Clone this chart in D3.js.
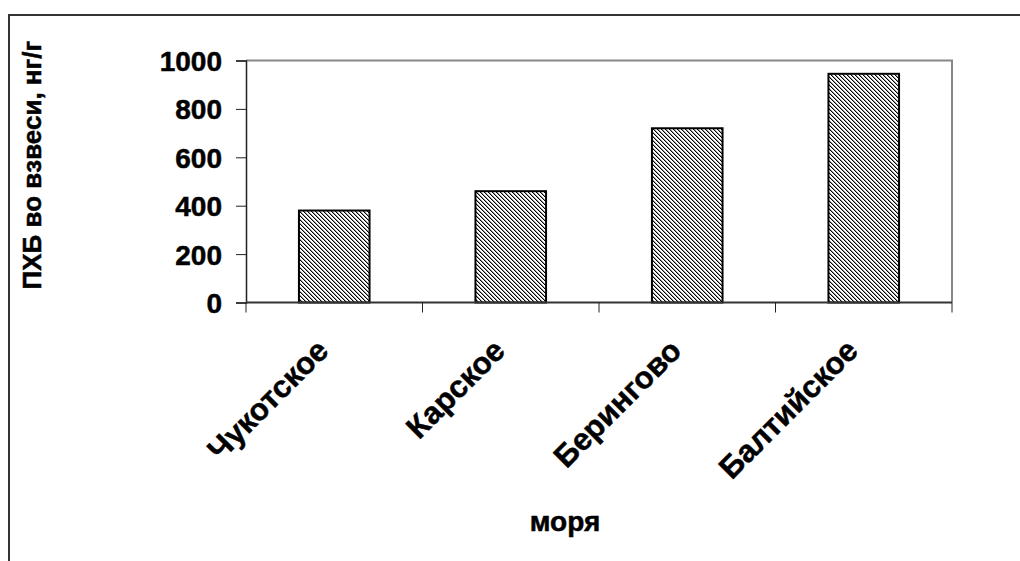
<!DOCTYPE html>
<html>
<head>
<meta charset="utf-8">
<script src="https://cdn.jsdelivr.net/npm/d3@7"></script>
<style>
  html, body { margin: 0; padding: 0; background: #fff; }
  svg { display: block; }
  text { font-family: "Liberation Sans", Arial, sans-serif; font-weight: bold; fill: #000; stroke: #000; stroke-width: 0.5px; }
</style>
</head>
<body>
<svg id="chart" width="1020" height="561"></svg>
<script>
// PCB concentration in suspended matter by sea
const seas = ["Чукотское", "Карское", "Берингово", "Балтийское"];
const pcbValues = [380, 460, 720, 945];
const yTicks = [0, 200, 400, 600, 800, 1000];
const yTitle = "ПХБ во взвеси, нг/г";
const xTitle = "моря";

const svg = d3.select("#chart");
const W = 1020, H = 561;
const plot = { left: 246, right: 952, top: 60.5, bottom: 302.5 };

// hatched fill for the bars (dark downward diagonal)
const defs = svg.append("defs");
const pat = defs.append("pattern")
  .attr("id", "hatch")
  .attr("patternUnits", "userSpaceOnUse")
  .attr("width", 4).attr("height", 4);
pat.append("rect").attr("width", 4).attr("height", 4).attr("fill", "#fff");
[[0,0],[1,1],[2,2],[3,3]].forEach(([x, y]) =>
  pat.append("rect").attr("x", x).attr("y", y).attr("width", 1).attr("height", 1).attr("fill", "#000"));
[[1,0],[2,1],[3,2],[0,3]].forEach(([x, y]) =>
  pat.append("rect").attr("x", x).attr("y", y).attr("width", 1).attr("height", 1).attr("fill", "#999"));

// outer chart frame (clipped by the canvas on right and bottom)
svg.append("path")
  .attr("d", `M9,${H} V15 H${W}`)
  .attr("fill", "none").attr("stroke", "#333").attr("stroke-width", 2);

const x = d3.scaleBand().domain(seas).range([plot.left, plot.right]).paddingInner(0.6).paddingOuter(0.3);
const xCat = d3.scaleBand().domain(seas).range([plot.left, plot.right]);
const y = d3.scaleLinear().domain([0, 1000]).range([plot.bottom, plot.top]);

// plot area border (top and right, grey)
svg.append("path")
  .attr("d", `M${plot.left},${plot.top} H${plot.right} V${plot.bottom}`)
  .attr("fill", "none").attr("stroke", "#888").attr("stroke-width", 2);

// bars
svg.append("g").selectAll("rect")
  .data(pcbValues)
  .join("rect")
  .attr("x", (d, i) => x(seas[i]))
  .attr("y", d => y(d))
  .attr("width", x.bandwidth())
  .attr("height", d => y(0) - y(d))
  .attr("fill", "url(#hatch)")
  .attr("stroke", "#000")
  .attr("stroke-width", 2);

// y axis
const yAxis = d3.axisLeft(y).tickValues(yTicks).tickFormat(d3.format("d")).tickSize(10).tickPadding(14);
const gy = svg.append("g").attr("transform", `translate(${plot.left},0)`).call(yAxis);
gy.select(".domain").attr("stroke", "#222").attr("stroke-width", 1.5);
gy.selectAll(".tick line").attr("stroke", "#222").attr("stroke-width", 1);
gy.selectAll(".tick text").style("font-size", "28px").attr("dy", "0.36em");

// x axis with ticks on category boundaries
const gx = svg.append("g").attr("transform", `translate(0,${plot.bottom})`);
gx.append("line")
  .attr("x1", plot.left).attr("x2", plot.right)
  .attr("stroke", "#333").attr("stroke-width", 2);
const bounds = seas.map(s => xCat(s)).concat([plot.right]);
gx.selectAll("line.tk")
  .data(bounds)
  .join("line")
  .attr("class", "tk")
  .attr("x1", d => d).attr("x2", d => d)
  .attr("y1", 0).attr("y2", 10)
  .attr("stroke", "#222").attr("stroke-width", 1);

// rotated category labels
svg.append("g").selectAll("text")
  .data(seas)
  .join("text")
  .attr("transform", d => `translate(${xCat(d) + xCat.bandwidth() / 2 - 4},${plot.bottom + 50}) rotate(-45)`)
  .attr("text-anchor", "end")
  .style("font-size", "31px")
  .text(d => d);

// axis titles
svg.append("text")
  .attr("transform", `translate(41,165) rotate(-90)`)
  .attr("text-anchor", "middle")
  .style("font-size", "26px")
  .text(yTitle);

svg.append("text")
  .attr("x", 565).attr("y", 531)
  .attr("text-anchor", "middle")
  .style("font-size", "28px")
  .text(xTitle);
</script>
</body>
</html>
